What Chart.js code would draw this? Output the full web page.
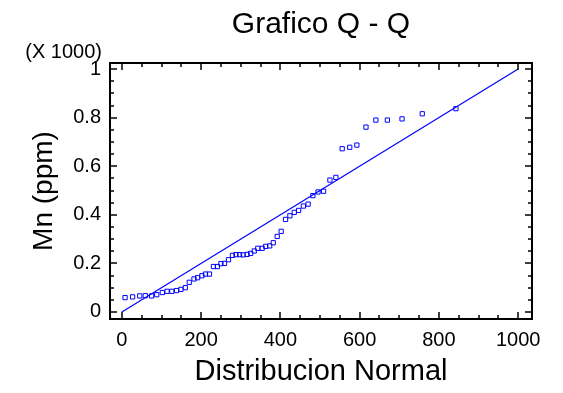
<!DOCTYPE html>
<html>
<head>
<meta charset="utf-8">
<script src="https://cdn.jsdelivr.net/npm/chart.js@4"></script>
<style>
  html, body { margin: 0; padding: 0; background: #fff; }
</style>
</head>
<body>
<canvas id="qqChart" width="563" height="393"></canvas>
<script>
// Normal quantiles (x) and sorted Mn values in ppm (y)
const normalQuantiles = [8, 27, 45, 59, 75, 88, 102, 114, 126, 138, 149, 160, 170, 182, 191, 202, 211, 221, 231, 241,
  250, 259, 269, 279, 288, 297, 306, 316, 325, 334, 343, 354, 363, 373, 382, 392, 402, 413, 424, 435,
  446, 458, 470, 482, 495, 509, 525, 540, 556, 575, 593, 616, 641, 670, 707, 758, 843];
const mnValues = [59, 62, 66, 67, 66, 71, 80, 85, 85, 88, 93, 100, 122, 136, 141, 149, 156, 156, 187, 187,
  199, 200, 215, 233, 236, 236, 235, 237, 241, 251, 262, 262, 270, 272, 285, 311, 332, 381, 396, 410,
  418, 436, 444, 479, 494, 497, 543, 554, 672, 678, 687, 761, 790, 790, 795, 816, 837];

// reference line y = x
const refLineX = [0, 1000];
const refLineY = [0, 1000];

const xTicks = [0, 200, 400, 600, 800, 1000];
const xTickLabels = ['0', '200', '400', '600', '800', '1000'];
const yTicks = [0, 200, 400, 600, 800, 1000];
const yTickLabels = ['0', '0.2', '0.4', '0.6', '0.8', '1'];

const FONT = "'Liberation Sans', Arial, Helvetica, sans-serif";
const BLUE = 'rgb(0, 0, 255)';

// frame with inward ticks on all four sides, plus title and multiplier note
const frameTicks = {
  id: 'frameTicks',
  afterDraw(chart) {
    const { ctx, chartArea: a, scales: { x, y } } = chart;
    ctx.save();
    ctx.strokeStyle = '#000';
    ctx.lineWidth = 1.5;
    ctx.beginPath();
    for (let v = 0; v <= x.max; v += 50) {
      const px = Math.round(x.getPixelForValue(v));
      const len = v % 200 === 0 ? 7 : 4;
      ctx.moveTo(px, a.bottom); ctx.lineTo(px, a.bottom - len);
      ctx.moveTo(px, a.top); ctx.lineTo(px, a.top + len);
    }
    for (let v = 0; v <= y.max; v += 50) {
      const py = Math.round(y.getPixelForValue(v));
      const len = v % 200 === 0 ? 7 : 4;
      ctx.moveTo(a.left, py); ctx.lineTo(a.left + len, py);
      ctx.moveTo(a.right, py); ctx.lineTo(a.right - len, py);
    }
    ctx.stroke();
    ctx.lineWidth = 2;
    ctx.strokeRect(a.left, a.top, a.right - a.left, a.bottom - a.top);

    ctx.fillStyle = '#000';
    ctx.textBaseline = 'alphabetic';
    ctx.textAlign = 'center';
    ctx.font = '30px ' + FONT;
    ctx.fillText('Grafico Q - Q', (a.left + a.right) / 2, 33);
    ctx.textAlign = 'right';
    ctx.font = '20px ' + FONT;
    ctx.fillText('(X 1000)', a.left - 8, 58);
    ctx.restore();
  }
};

const scatterData = normalQuantiles.map((q, i) => ({ x: q, y: mnValues[i] }));
const lineData = refLineX.map((v, i) => ({ x: v, y: refLineY[i] }));

new Chart(document.getElementById('qqChart').getContext('2d'), {
  type: 'scatter',
  data: {
    datasets: [{
      label: 'Mn',
      data: scatterData,
      pointStyle: 'rect',
      pointRadius: 3,
      borderWidth: 1,
      borderColor: BLUE,
      backgroundColor: 'rgba(0,0,0,0)'
    }, {
      type: 'line',
      label: 'Normal',
      data: lineData,
      borderColor: BLUE,
      borderWidth: 1.2,
      pointRadius: 0,
      fill: false
    }]
  },
  options: {
    responsive: false,
    animation: false,
    layout: { padding: { top: 63, right: 31, left: 0, bottom: 0 } },
    plugins: { legend: { display: false }, tooltip: { enabled: false } },
    scales: {
      x: {
        type: 'linear',
        min: -30,
        max: 1035,
        afterBuildTicks: s => { s.ticks = xTicks.map(v => ({ value: v })); },
        afterFit: s => { s.height = 74; },
        grid: { display: false, drawTicks: false },
        border: { display: false },
        ticks: { padding: 9, color: '#000', font: { family: FONT, size: 20 }, maxRotation: 0, autoSkip: false,
          callback: (v, i) => xTickLabels[i] },
        title: { display: true, text: 'Distribucion Normal', color: '#000', font: { family: FONT, size: 29 }, padding: { top: 0, bottom: 4 } }
      },
      y: {
        type: 'linear',
        min: -29,
        max: 1025,
        afterBuildTicks: s => { s.ticks = yTicks.map(v => ({ value: v })); },
        afterFit: s => { s.width = 110; },
        grid: { display: false, drawTicks: false },
        border: { display: false },
        ticks: { padding: 9, color: '#000', font: { family: FONT, size: 20 }, autoSkip: false,
          callback: (v, i) => yTickLabels[i] },
        title: { display: true, text: 'Mn (ppm)', color: '#000', font: { family: FONT, size: 28 }, padding: { top: 27, bottom: 0 } }
      }
    }
  },
  plugins: [frameTicks]
});
</script>
</body>
</html>
